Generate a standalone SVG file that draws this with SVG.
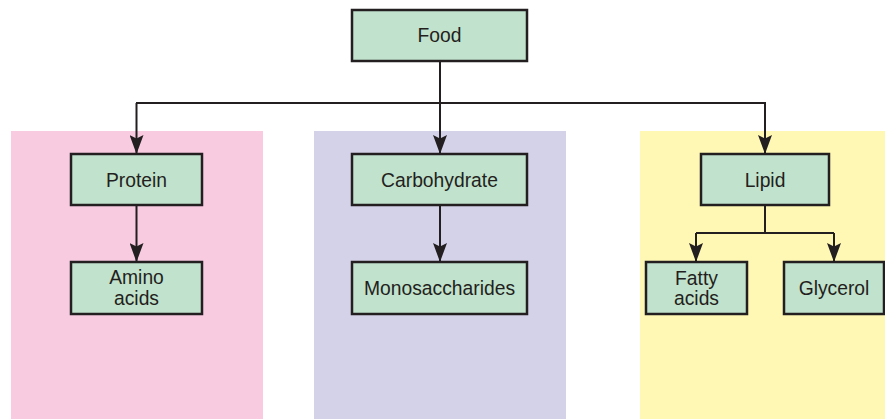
<svg xmlns="http://www.w3.org/2000/svg" width="885" height="419" viewBox="0 0 885 419">
  <style>
    .box { fill: #c1e2cc; stroke: #231f20; stroke-width: 2.5; }
    .lbl { font-family: "Liberation Sans", Arial, sans-serif; font-size: 19.3px; fill: #231f20; text-anchor: middle; }
    .wire { fill: none; stroke: #231f20; stroke-width: 2; }
  </style>
  <defs>
    <marker id="head" viewBox="0 0 19 14" refX="19" refY="7" markerWidth="19" markerHeight="14" markerUnits="userSpaceOnUse" orient="auto">
      <path d="M0,0 L19,7 L0,14 L3.5,7 Z" fill="#231f20"/>
    </marker>
  </defs>

  <rect width="885" height="419" fill="#ffffff"/>

  <!-- background panels -->
  <rect x="11" y="131" width="252" height="288" fill="#f8cbe0"/>
  <rect x="314" y="131" width="252" height="288" fill="#d4d2e8"/>
  <rect x="640" y="131" width="245" height="288" fill="#fef8b4"/>

  <!-- connectors -->
  <g id="connectors">
    <path class="wire" d="M440,61 V154" marker-end="url(#head)"/>
    <path class="wire" d="M136,103 H766"/>
    <path class="wire" d="M136.5,103 V154" marker-end="url(#head)"/>
    <path class="wire" d="M765,103 V154" marker-end="url(#head)"/>
    <path class="wire" d="M136.5,205 V262" marker-end="url(#head)"/>
    <path class="wire" d="M440,205 V262" marker-end="url(#head)"/>
    <path class="wire" d="M765,205 V233"/>
    <path class="wire" d="M696,233 H834"/>
    <path class="wire" d="M696,233 V262" marker-end="url(#head)"/>
    <path class="wire" d="M834,233 V262" marker-end="url(#head)"/>
  </g>

  <g id="food">
    <rect class="box" x="352" y="10" width="175" height="51"/>
    <text class="lbl" x="439.5" y="42">Food</text>
  </g>
  <g id="protein">
    <rect class="box" x="71" y="154" width="131" height="51"/>
    <text class="lbl" x="136.5" y="186.5">Protein</text>
  </g>
  <g id="amino-acids">
    <rect class="box" x="71" y="262" width="131" height="52"/>
    <text class="lbl" x="136.5" y="284">Amino</text>
    <text class="lbl" x="136.5" y="305">acids</text>
  </g>
  <g id="carbohydrate">
    <rect class="box" x="352" y="154" width="175" height="51"/>
    <text class="lbl" x="439.5" y="186.5">Carbohydrate</text>
  </g>
  <g id="monosaccharides">
    <rect class="box" x="352" y="262" width="175" height="52"/>
    <text class="lbl" x="439.5" y="295">Monosaccharides</text>
  </g>
  <g id="lipid">
    <rect class="box" x="701" y="154" width="128" height="51"/>
    <text class="lbl" x="765" y="186.5">Lipid</text>
  </g>
  <g id="fatty-acids">
    <rect class="box" x="646" y="262" width="101" height="52"/>
    <text class="lbl" x="696.5" y="285">Fatty</text>
    <text class="lbl" x="696.5" y="305">acids</text>
  </g>
  <g id="glycerol">
    <rect class="box" x="784" y="262" width="100" height="52"/>
    <text class="lbl" x="834" y="295">Glycerol</text>
  </g>
</svg>
